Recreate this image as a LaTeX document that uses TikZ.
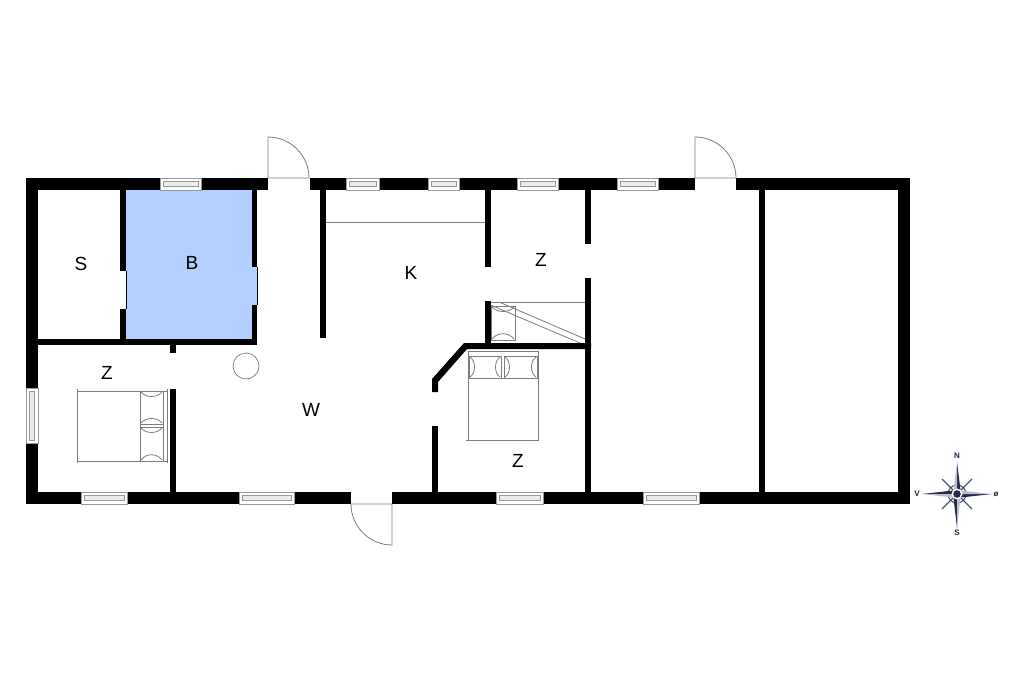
\documentclass[tikz,border=0pt]{standalone}
\usepackage{fontspec}
\setmainfont{Liberation Sans}
\definecolor{bathblue}{RGB}{178,208,255}
\definecolor{thin}{RGB}{125,125,125}
\definecolor{navy}{RGB}{32,42,84}
\newcommand{\wallbox}[4]{\fill[black] (#1,#3) rectangle (#2,#4);}
\newcommand{\winh}[4]{%
  \draw[winframe] (#1,#3) rectangle (#2,#4);
  \draw[winframe,fill=black!8] (#1+3,#3+3.5) rectangle (#2-3,#4-3.5);}
\newcommand{\winv}[4]{%
  \draw[winframe] (#1,#3) rectangle (#2,#4);
  \draw[winframe,fill=black!8] (#1+3.5,#3+3) rectangle (#2-3.5,#4-3);}
\tikzset{
  winframe/.style={draw=thin!80,line width=0.6pt,fill=white},
  thinline/.style={draw=thin,line width=0.8pt},
  roomlabel/.style={font=\fontsize{19}{19}\selectfont,text=black,inner sep=0pt},
  compasslabel/.style={font=\fontsize{8}{8}\selectfont\bfseries,text=navy!80!black,inner sep=0pt},
}
\begin{document}
\begin{tikzpicture}[x=1pt,y=-1pt]
\useasboundingbox (0,0) rectangle (1024,682);
\fill[white] (0,0) rectangle (1024,682);
% bathroom floor
\fill[bathblue] (126,190) rectangle (252,339);
\fill[bathblue] (252,267) rectangle (257,305);
\draw[thin,line width=0.5pt] (126,271) -- (126,309);
\draw[thin,line width=0.5pt] (257,267) -- (257,305);
% outer walls
\wallbox{26}{38}{178}{504}
\wallbox{898}{910}{178}{504}
\wallbox{26}{268}{178}{190}
\wallbox{310}{695}{178}{190}
\wallbox{736}{910}{178}{190}
\wallbox{26}{351}{492}{504}
\wallbox{392}{910}{492}{504}
% inner walls
\wallbox{120}{126}{190}{271}
\wallbox{120}{126}{309}{345}
\wallbox{38}{257}{339}{345}
\wallbox{252}{257}{190}{267}
\wallbox{252}{257}{305}{345}
\wallbox{170}{176}{345}{353}
\wallbox{170}{176}{389}{492}
\wallbox{320}{326}{190}{338}
\wallbox{484.5}{490.5}{190}{267}
\wallbox{484.5}{490.5}{301}{345}
\wallbox{585}{591}{190}{244}
\wallbox{585}{591}{278}{492}
\wallbox{759}{765}{190}{492}
\wallbox{432}{438}{426}{492}
\fill[black] (591,343) -- (464,343) -- (432,379) -- (432,392) -- (438,392) -- (438,382) -- (467,349) -- (591,349) -- cycle;
% windows
\winh{160}{201}{178}{190}
\winh{346}{379}{178}{190}
\winh{428}{459}{178}{190}
\winh{517}{558}{178}{190}
\winh{617}{658}{178}{190}
\winh{81}{127}{492}{504}
\winh{239}{294}{492}{504}
\winh{496}{543}{492}{504}
\winh{643}{699}{492}{504}
\winv{26}{38}{388}{443}
% doors
\draw[thinline] (268,178) -- (268,137) .. controls (290.6,137) and (309,155.4) .. (309,178) -- cycle;
\draw[thinline] (695,178) -- (695,137) .. controls (717.6,137) and (736,155.4) .. (736,178) -- cycle;
\draw[thinline] (392,504) -- (392,545) .. controls (369.4,545) and (351,526.6) .. (351,504) -- cycle;
% round column
\node[draw=thin,line width=0.7pt,circle,minimum size=26pt,inner sep=0pt] (column) at (246,366) {};
% kitchen counter
\draw[thinline] (326,222.5) -- (484.5,222.5);
% bed west
\begin{scope}[thinline]
\draw (77,389) -- (77,463);
\draw (77,391) -- (167,391);
\draw (77,461.5) -- (167,461.5);
\draw (167,388.5) -- (167,463);
\draw (163,391) -- (163,461.5);
\draw (140,391) -- (140,461.5);
\draw (140,424) -- (163,424);
\draw (140,427) -- (163,427);
\draw (141,392) .. controls (146,398) and (157,398) .. (162,392);
\draw (141,423) .. controls (146,417) and (157,417) .. (162,423);
\draw (141,428) .. controls (146,434) and (157,434) .. (162,428);
\draw (141,460) .. controls (146,453) and (157,453) .. (162,460);
\end{scope}
% bed south
\begin{scope}[thinline]
\draw (468,351) -- (538,351);
\draw (468,351) -- (468,440);
\draw (538,351) -- (538,440);
\draw (466,440.5) -- (539,440.5);
\draw (469,378) -- (537,378);
\draw (469,356) rectangle (501,378);
\draw (504,356) rectangle (537,378);
\draw (470,357) .. controls (476,361) and (476,373) .. (470,377);
\draw (500,357) .. controls (494,361) and (494,373) .. (500,377);
\draw (505,357) .. controls (511,361) and (511,373) .. (505,377);
\draw (536,357) .. controls (530,361) and (530,373) .. (536,377);
\end{scope}
% bed by the stair
\begin{scope}[thinline]
\draw (490.5,302) -- (585,302);
\draw (491,306) rectangle (515,340);
\draw (492,307) .. controls (497,313) and (509,313) .. (514,307);
\draw (492,339) .. controls (497,332) and (509,332) .. (514,339);
\draw (499,302) -- (585,339);
\draw (490.5,305) -- (580,343);
\end{scope}
% labels
\node[roomlabel] (roomS) at (81,264) {S};
\node[roomlabel] (roomB) at (192,263) {B};
\node[roomlabel] (roomK) at (411,272.5) {K};
\node[roomlabel] (roomZa) at (541,260) {Z};
\node[roomlabel] (roomZb) at (107,373) {Z};
\node[roomlabel] (roomW) at (311,410) {W};
\node[roomlabel] (roomZc) at (518,461) {Z};
% compass
\begin{scope}[shift={(957,494)}]
\draw[navy!80,line width=1.1pt] (-15,-15) -- (15,15) (-15,15) -- (15,-15);
\draw[navy,line width=0.8pt] (0,0) circle[radius=9];
\fill[navy] (0,-32) -- (3.5,-4) -- (0,0) -- cycle;
\fill[black!25] (0,-32) -- (-3.5,-4) -- (0,0) -- cycle;
\fill[navy] (0,34) -- (-3.5,4) -- (0,0) -- cycle;
\fill[black!25] (0,34) -- (3.5,4) -- (0,0) -- cycle;
\fill[navy] (35,0) -- (4,3.5) -- (0,0) -- cycle;
\fill[black!25] (35,0) -- (4,-3.5) -- (0,0) -- cycle;
\fill[navy] (-35,0) -- (-4,-3.5) -- (0,0) -- cycle;
\fill[black!25] (-35,0) -- (-4,3.5) -- (0,0) -- cycle;
\fill[white] (0,0) circle[radius=5.5];
\fill[navy] (0,0) circle[radius=3.8];
\end{scope}
\node[compasslabel] (north) at (957,456) {N};
\node[compasslabel] (south) at (957,533) {S};
\node[compasslabel] (west) at (917,494) {V};
\node[compasslabel] (east) at (996,494) {ø};
\end{tikzpicture}
\end{document}
